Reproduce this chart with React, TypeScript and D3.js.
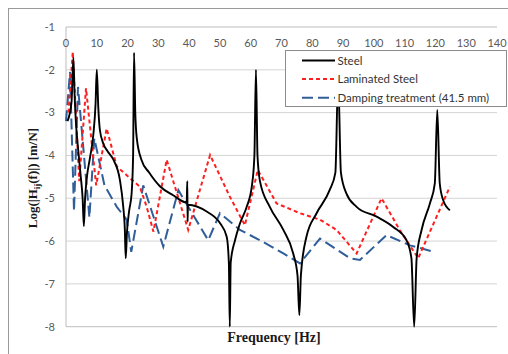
import React, { useEffect, useRef } from "react";
import * as d3 from "d3";

// values (frequency in Hz, log10 |H| in m/N)
const steelFreq = [0.5, 1.8, 2.4, 2.8, 3.2, 4.0, 4.8, 5.4, 5.8, 6.2, 6.8, 7.8, 8.9, 9.6, 10.0, 10.5, 11.0, 12.1, 13.5, 15.4, 17.5, 18.6, 19.1, 19.4, 19.8, 20.5, 21.3, 21.8, 22.1, 22.5, 23.0, 24.5, 27.0, 30.5, 34.8, 39.2, 39.4, 39.5, 39.6, 45.7, 50.0, 52.2, 52.9, 53.2, 53.5, 54.9, 56.5, 58.7, 60.4, 61.2, 61.7, 62.2, 63.0, 66.2, 70.6, 73.8, 75.2, 75.8, 76.3, 78.1, 81.4, 85.7, 87.5, 88.4, 89.3, 91.1, 94.4, 100.9, 106.3, 110.6, 112.2, 113.1, 113.9, 115.5, 118.2, 119.8, 120.6, 121.4, 122.5, 124.7];
const steelLog = [-3.2, -2.75, -1.72, -2.6, -3.2, -3.9, -4.5, -5.0, -5.65, -5.0, -4.5, -4.05, -3.5, -2.8, -2.0, -2.9, -3.4, -3.72, -3.9, -4.1, -4.57, -5.2, -5.7, -6.4, -5.8, -5.3, -4.9, -4.0, -1.6, -3.0, -3.6, -4.1, -4.4, -4.72, -4.93, -5.1, -4.6, -5.55, -5.15, -5.31, -5.58, -5.9, -6.5, -8.0, -6.5, -5.98, -5.59, -5.2, -4.7, -4.0, -2.0, -4.0, -4.6, -5.2, -5.74, -6.29, -6.8, -7.73, -6.8, -5.9, -5.35, -4.8, -4.4, -2.2, -4.4, -4.89, -5.2, -5.43, -5.67, -5.98, -6.4, -8.0, -6.4, -5.74, -5.12, -4.65, -2.94, -4.65, -5.04, -5.28];

const laminatedFreq = [0.8, 2.2, 4.3, 6.5, 9.8, 13.2, 16.5, 20.8, 24.0, 26.2, 28.4, 32.7, 39.7, 46.8, 53.2, 58.1, 62.3, 68.4, 76.0, 82.5, 87.9, 94.4, 102.5, 108.4, 114.4, 124.7];
const laminatedLog = [-3.0, -1.58, -4.6, -2.43, -4.7, -3.37, -4.26, -4.53, -4.73, -5.2, -5.78, -4.1, -5.74, -3.99, -4.96, -5.63, -4.34, -5.12, -5.35, -5.5, -5.74, -6.29, -5.0, -5.74, -6.4, -4.73];

const dampingFreq = [0, 1.3, 2.6, 3.9, 7.6, 9.2, 12.5, 16.5, 19.7, 21.2, 25.1, 31.6, 36.5, 46.2, 50.0, 56.5, 63.0, 70.6, 76.0, 82.5, 92.2, 95.5, 104.1, 111.7, 119.5];
const dampingLog = [-3.2, -2.05, -5.3, -2.4, -5.45, -3.6, -4.7, -5.2, -5.5, -6.25, -4.7, -6.13, -4.81, -5.98, -5.35, -5.74, -5.98, -6.29, -6.52, -5.94, -6.4, -6.44, -5.86, -6.1, -6.25];

const xTicks = [0, 10, 20, 30, 40, 50, 60, 70, 80, 90, 100, 110, 120, 130, 140];
const yTicks = [-1, -2, -3, -4, -5, -6, -7, -8];

const seriesNames = ["Steel", "Laminated Steel", "Damping treatment (41.5 mm)"];

const W = 508;
const H = 354;

export default function App() {
    const ref = useRef<SVGSVGElement>(null);

    useEffect(() => {
        const svg = d3.select(ref.current);
        svg.selectAll("*").remove();

        const x = d3.scaleLinear().domain([0, 140]).range([66, 497]);
        const y = d3.scaleLinear().domain([-8, -1]).range([326.7, 27]);
        const tickFont = "Lato, 'Open Sans', sans-serif";

        svg.append("rect")
            .attr("x", 8.5).attr("y", 8.5)
            .attr("width", W - 8).attr("height", H - 8)
            .attr("fill", "#fff").attr("stroke", "#9a9a9a");

        // horizontal gridlines
        svg.append("g")
            .selectAll("line")
            .data(yTicks)
            .join("line")
            .attr("x1", x(0)).attr("x2", x(140))
            .attr("y1", d => y(d)).attr("y2", d => y(d))
            .attr("stroke", d => (d === -8 || d === -1) ? "#bdbdbd" : "#d4d4d4")
            .attr("stroke-width", 1);

        svg.append("line")
            .attr("x1", x(0)).attr("x2", x(0))
            .attr("y1", y(-1)).attr("y2", y(-8))
            .attr("stroke", "#bdbdbd");

        svg.append("g")
            .selectAll("text")
            .data(yTicks)
            .join("text")
            .attr("x", 55)
            .attr("y", d => y(d))
            .attr("dy", "0.35em")
            .attr("text-anchor", "end")
            .style("font-family", tickFont)
            .style("font-size", "11px")
            .attr("fill", "#595959")
            .text(d => d);

        svg.append("g")
            .selectAll("text")
            .data(xTicks)
            .join("text")
            .attr("x", d => x(d))
            .attr("y", 47)
            .attr("text-anchor", "middle")
            .style("font-family", tickFont)
            .style("font-size", "11px")
            .attr("fill", "#595959")
            .text(d => d);

        const pts = (fs: number[], vs: number[]) => fs.map((f, i) => [f, vs[i]] as [number, number]);

        const smooth = d3.line<[number, number]>()
            .x(d => x(d[0])).y(d => y(d[1]))
            .curve(d3.curveMonotoneX);
        const straight = d3.line<[number, number]>()
            .x(d => x(d[0])).y(d => y(d[1]));

        svg.append("path")
            .attr("d", straight(pts(dampingFreq, dampingLog)))
            .attr("fill", "none")
            .attr("stroke", "#2f5e98")
            .attr("stroke-width", 2)
            .attr("stroke-dasharray", "11,5");

        svg.append("path")
            .attr("d", straight(pts(laminatedFreq, laminatedLog)))
            .attr("fill", "none")
            .attr("stroke", "#ff1f1f")
            .attr("stroke-width", 2)
            .attr("stroke-dasharray", "4,3");

        svg.append("path")
            .attr("d", smooth(pts(steelFreq, steelLog)))
            .attr("fill", "none")
            .attr("stroke", "#000")
            .attr("stroke-width", 1.9);

        // legend
        const lg = svg.append("g");
        lg.append("rect")
            .attr("x", 285.5).attr("y", 50.5)
            .attr("width", 221).attr("height", 56)
            .attr("fill", "#fff").attr("stroke", "#8c8c8c");
        const styles = [
            { stroke: "#000", dash: null, width: 1.9 },
            { stroke: "#ff1f1f", dash: "4,3", width: 2 },
            { stroke: "#2f5e98", dash: "11,5", width: 2 },
        ];
        seriesNames.forEach((name, i) => {
            const ly = 60.5 + i * 18.6;
            lg.append("line")
                .attr("x1", 302).attr("x2", 335)
                .attr("y1", ly).attr("y2", ly)
                .attr("stroke", styles[i].stroke)
                .attr("stroke-width", styles[i].width)
                .attr("stroke-dasharray", styles[i].dash);
            lg.append("text")
                .attr("x", 337.5).attr("y", ly)
                .attr("dy", "0.35em")
                .style("font-family", tickFont)
                .style("font-size", "11.5px")
                .attr("fill", "#333")
                .text(name);
        });

        svg.append("text")
            .attr("x", 274).attr("y", 342)
            .attr("text-anchor", "middle")
            .style("font-family", "'Liberation Serif', 'Times New Roman', serif")
            .style("font-weight", "bold")
            .style("font-size", "14px")
            .attr("fill", "#1a1a1a")
            .text("Frequency [Hz]");

        const yt = svg.append("text")
            .attr("transform", "translate(37,178) rotate(-90)")
            .attr("text-anchor", "middle")
            .style("font-family", "'Liberation Serif', 'Times New Roman', serif")
            .style("font-weight", "bold")
            .style("font-size", "13px")
            .attr("fill", "#1a1a1a");
        yt.append("tspan").text("Log(|H");
        yt.append("tspan").attr("dy", 3).style("font-size", "9px").text("ij");
        yt.append("tspan").attr("dy", -3).text("(f)|) [m/N]");
    }, []);

    return (
        <div style={{ position: "absolute", left: 0, top: 0 }}>
            <svg ref={ref} width={W} height={H} style={{ display: "block" }} />
        </div>
    );
}
